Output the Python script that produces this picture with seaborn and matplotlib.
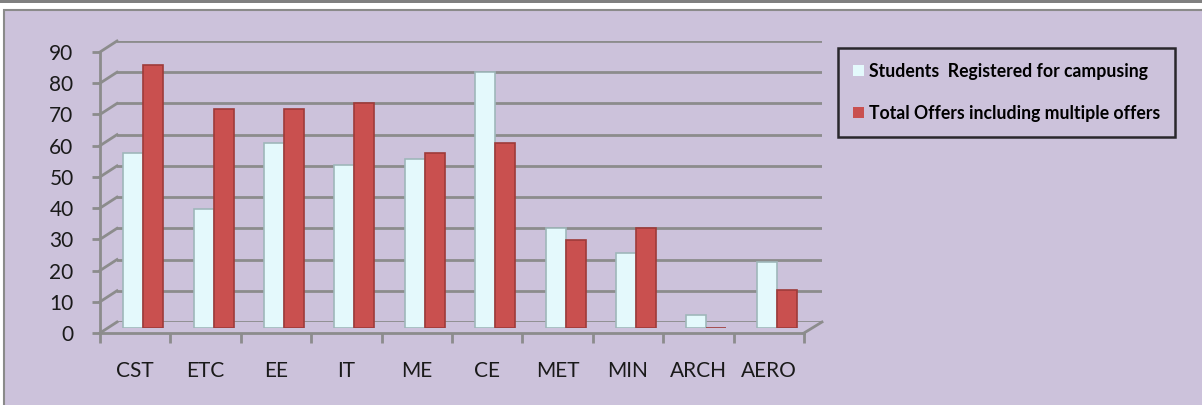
import pandas as pd
import seaborn as sns
import matplotlib.pyplot as plt
from matplotlib.lines import Line2D
from matplotlib.patches import Rectangle

branches = ["CST", "ETC", "EE", "IT", "ME", "CE", "MET", "MIN", "ARCH", "AERO"]
registered = [56, 38, 59, 52, 54, 82, 32, 24, 4, 21]
offers = [84, 70, 70, 72, 56, 59, 28, 32, 0, 12]
series_names = ["Students  Registered for campusing", "Total Offers including multiple offers"]
y_ticks = [0, 10, 20, 30, 40, 50, 60, 70, 80, 90]

W, H = 1202, 405
BG = "#CCC2DB"
GRID = "#8C8C8C"


def box(x0, y_top, x1, y_bottom):
    # pixel box (top-left origin) -> figure fraction rect
    return [x0 / W, 1 - y_bottom / H, (x1 - x0) / W, (y_bottom - y_top) / H]


df = pd.DataFrame({
    "branch": branches * 2,
    "value": registered + offers,
    "series": [series_names[0]] * len(branches) + [series_names[1]] * len(branches),
})

plt.rcParams["font.family"] = ["Lato", "DejaVu Sans"]

fig = plt.figure(figsize=(W / 100, H / 100), dpi=100)
fig.patch.set_facecolor("white")

# Outer frame of the slide panel (kept behind the axes)
fig.add_artist(Rectangle((0, 1 - 3 / H), 1, 3 / H, transform=fig.transFigure,
                         facecolor="#808080", edgecolor="none", zorder=-10))
fig.add_artist(Rectangle((3.5 / W, -0.01), 1, 1 - 10 / H + 0.01, transform=fig.transFigure,
                         facecolor=BG, edgecolor="#8A8A8A", linewidth=1.5, zorder=-10))

# Back wall (gridlines)
ax_back = fig.add_axes(box(117, 41, 822, 322))
ax_back.set_xlim(0, 1)
ax_back.set_ylim(0, 90)
ax_back.patch.set_alpha(0)
for v in y_ticks:
    ax_back.axhline(v, color=GRID, linewidth=2)
ax_back.axis("off")

# Front axis plane (ticks + labels)
ax_front = fig.add_axes(box(100, 52, 804, 333))
ax_front.patch.set_alpha(0)
ax_front.set_xlim(-0.5, len(branches) - 0.5)
ax_front.set_ylim(0, 90)
for s in ["top", "right"]:
    ax_front.spines[s].set_visible(False)
for s in ["left", "bottom"]:
    ax_front.spines[s].set_color(GRID)
    ax_front.spines[s].set_linewidth(2)
ax_front.set_yticks(y_ticks)
ax_front.tick_params(axis="y", length=6, width=2, color=GRID, pad=13,
                     labelsize=15, labelcolor="#1a1a1a")
ax_front.set_xticks(range(len(branches)))
ax_front.set_xticklabels(branches)
ax_front.set_xticks([i - 0.5 for i in range(len(branches) + 1)], minor=True)
ax_front.tick_params(axis="x", which="major", length=0, pad=20,
                     labelsize=15, labelcolor="#1a1a1a")
ax_front.tick_params(axis="x", which="minor", length=7, width=2, color=GRID)

# Depth connectors between front axis and back wall
to_fig = fig.transFigure.inverted()
for v in y_ticks:
    p1 = to_fig.transform(ax_front.transData.transform((-0.5, v)))
    p2 = to_fig.transform(ax_back.transData.transform((0, v)))
    fig.add_artist(Line2D([p1[0], p2[0]], [p1[1], p2[1]], transform=fig.transFigure,
                          color=GRID, linewidth=2))
p1 = to_fig.transform(ax_front.transData.transform((len(branches) - 0.5, 0)))
p2 = to_fig.transform(ax_back.transData.transform((1, 0)))
fig.add_artist(Line2D([p1[0], p2[0]], [p1[1], p2[1]], transform=fig.transFigure,
                      color=GRID, linewidth=2))

# Bars in the middle depth plane
ax_mid = fig.add_axes(box(108, 46.5, 812, 328))
ax_mid.patch.set_alpha(0)
sns.barplot(df, x="branch", y="value", hue="series",
            palette=["#E4F9FC", "#C9504F"], width=0.57, gap=0,
            saturation=1, ax=ax_mid)
for cont, ec in zip(ax_mid.containers, ["#9FB7BA", "#9E3B3A"]):
    for bar in cont:
        bar.set_edgecolor(ec)
        bar.set_linewidth(1.2)
handles, labels = ax_mid.get_legend_handles_labels()
ax_mid.get_legend().remove()
ax_mid.set_xlim(-0.5, len(branches) - 0.5)
ax_mid.set_ylim(0, 90)
ax_mid.axis("off")

leg = fig.legend(handles, labels, loc="upper left",
                 bbox_to_anchor=(838 / W, 1 - 48 / H), borderaxespad=0,
                 frameon=True, fancybox=False, handlelength=0.6, handleheight=0.6,
                 handletextpad=0.3, labelspacing=1.4, borderpad=0.85,
                 prop={"weight": "bold", "size": 12.7})
leg.get_frame().set_edgecolor("black")
leg.get_frame().set_linewidth(1.8)
leg.get_frame().set_facecolor("none")
for h in leg.legend_handles:
    h.set_edgecolor("none")

fig.savefig("out.png", dpi=100, facecolor=fig.get_facecolor())
